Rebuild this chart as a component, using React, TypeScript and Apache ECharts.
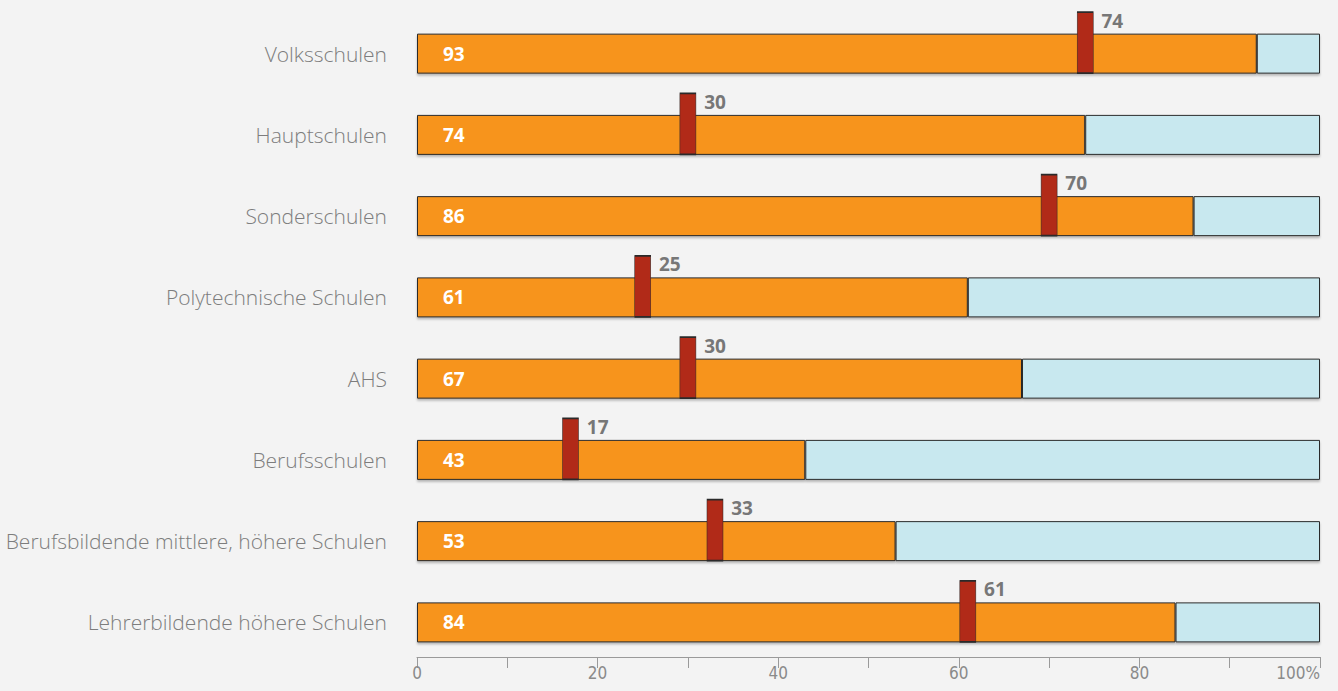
import React, { useEffect, useRef } from "react";
import * as echarts from "echarts";

const categories = [
  "Volksschulen",
  "Hauptschulen",
  "Sonderschulen",
  "Polytechnische Schulen",
  "AHS",
  "Berufsschulen",
  "Berufsbildende mittlere, höhere Schulen",
  "Lehrerbildende höhere Schulen",
];
const mainValues = [93, 74, 86, 61, 67, 43, 53, 84];
const markerValues = [74, 30, 70, 25, 30, 17, 33, 61];
const totalValue = 100;
const xTicks = [0, 20, 40, 60, 80, 100];

export default function App() {
  const ref = useRef<HTMLDivElement>(null);
  useEffect(() => {
    if (!ref.current) return;
    const chart = echarts.init(ref.current, null, { renderer: "svg" });
    const rest = mainValues.map((v) => totalValue - v);
    const shadow = {
      shadowColor: "rgba(0,0,0,0.25)",
      shadowBlur: 2,
      shadowOffsetY: 2,
    };
    chart.setOption({
      animation: false,
      backgroundColor: "#f3f3f3",
      grid: { left: 417, right: 18, top: 13, bottom: 28, containLabel: false },
      xAxis: {
        type: "value",
        min: 0,
        max: 100,
        interval: 10,
        offset: -6,
        splitLine: { show: false },
        axisLine: { show: true, lineStyle: { color: "#9a9a9a", width: 1 } },
        axisTick: { show: true, length: 11, lineStyle: { color: "#9a9a9a" } },
        axisLabel: {
          color: "#8a8a8a",
          fontSize: 17,
          fontFamily: "'Liberation Sans Narrow', 'DejaVu Sans Condensed', sans-serif",
          margin: 7,
          alignMaxLabel: "right",
          formatter: (v: number) =>
            xTicks.includes(v) ? (v === 100 ? "100%" : String(v)) : "",
        },
      },
      yAxis: {
        type: "category",
        data: categories,
        inverse: true,
        axisLine: { show: false },
        axisTick: { show: false },
        axisLabel: {
          color: "#7d7d7d",
          fontSize: 21,
          fontFamily: "'Open Sans', sans-serif",
          fontWeight: 300,
          margin: 30,
        },
      },
      series: [
        {
          type: "bar",
          stack: "a",
          data: mainValues,
          barWidth: 40,
          itemStyle: {
            color: "#f7941e",
            borderColor: "#2a2a2a",
            borderWidth: 1,
            ...shadow,
          },
          label: {
            show: true,
            position: "insideLeft",
            distance: 26,
            color: "#ffffff",
            fontSize: 19,
            fontWeight: "bold",
            fontFamily: "'Open Sans', sans-serif",
          },
        },
        {
          type: "bar",
          stack: "a",
          data: rest,
          barWidth: 40,
          itemStyle: {
            color: "#c8e8ef",
            borderColor: "#2a2a2a",
            borderWidth: 1,
            ...shadow,
          },
        },
        {
          type: "scatter",
          data: markerValues.map((v, i) => [v, categories[i]]),
          symbol: "rect",
          symbolSize: [16, 61],
          symbolOffset: [0, -11],
          z: 5,
          itemStyle: {
            color: "#b12a18",
            borderColor: "#2a2a2a",
            borderWidth: 1,
            opacity: 1,
          },
          label: {
            show: true,
            position: "right",
            distance: 8,
            offset: [0, -22],
            formatter: (p: any) => String(p.value[0]),
            color: "#777777",
            fontSize: 19,
            fontWeight: "bold",
            fontFamily: "'Open Sans', sans-serif",
          },
        },
      ],
    });
    return () => chart.dispose();
  }, []);
  return (
    <div
      ref={ref}
      style={{ position: "absolute", left: 0, top: 0, width: 1338, height: 691 }}
    />
  );
}
